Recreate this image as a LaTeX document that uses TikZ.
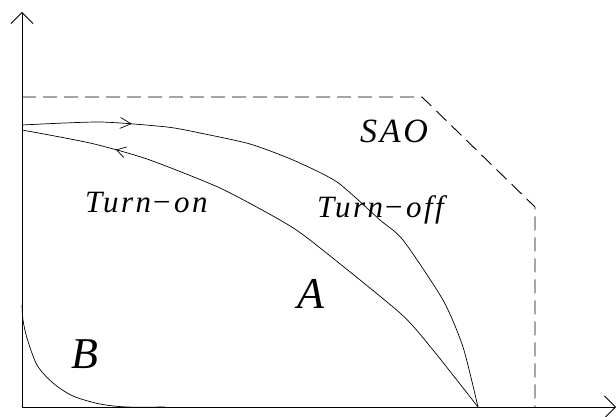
\documentclass[tikz,border=0pt]{standalone}
\usepackage{fontspec}
\setmainfont{Liberation Serif}
\newfontfamily\widefont{Liberation Serif}[LetterSpace=8]
\usetikzlibrary{arrows.meta,decorations.markings}
\tikzset{
  axis/.style={draw=black,line width=0.9pt,
               -{Straight Barb[length=11pt,width=22pt,line width=0.8pt]}},
  bound/.style={draw=black,line width=0.9pt,dash pattern=on 14pt off 7pt},
  curve/.style={draw=black,line width=0.7pt},
  flowfwd/.style={postaction={decorate},decoration={markings,
      mark=at position #1 with {\arrow{Straight Barb[length=11pt,width=11pt,line width=0.7pt]}}}},
  flowback/.style={postaction={decorate},decoration={markings,
      mark=at position #1 with {\arrowreversed{Straight Barb[length=9pt,width=11pt,line width=0.7pt]}}}},
  lbl/.style={inner sep=0pt,anchor=base west,font=\widefont\fontsize{31}{32}\selectfont\itshape},
  saolbl/.style={lbl,font=\widefont\fontsize{34}{36}\selectfont\itshape},
  big/.style={inner sep=0pt,anchor=base west,font=\fontsize{44}{46}\selectfont\itshape},
}
\begin{document}
\begin{tikzpicture}[x=1pt,y=-1pt]
\useasboundingbox (0,0) rectangle (616,417);
  \coordinate (o) at (22,407);
  \coordinate (ytop) at (22,12);
  \coordinate (xend) at (616,407);
  % axes
  \draw[axis] (o) -- (ytop);
  \draw[axis] (o) -- (xend);
  % safe operating area
  \coordinate (s1) at (22,97);
  \coordinate (s2) at (422,97);
  \coordinate (s3) at (535,207);
  \coordinate (s4) at (535,407);
  \draw[bound] (s1) -- (s2) -- (s3) -- (s4);
  % switching trajectories
  \draw[curve,flowfwd=110pt] plot[smooth,tension=0.4] coordinates
    {(22,125) (100,122) (167,127) (200,133) (250,144) (293,160) (337,182)
     (380,220) (403,240) (443,300) (463,347) (478,407)};
  \draw[curve,flowback=96pt] plot[smooth,tension=0.4] coordinates
    {(22,130) (90,143) (147,159) (220,188) (280,220) (310,240) (400,313)
     (433,350) (478,407)};
  \draw[curve] plot[smooth,tension=0.5] coordinates
    {(22,305) (23,320) (27,338) (37,365) (53,383) (73,396) (100,404)
     (127,407) (165,407)};
  % labels
  \node[saolbl] (sao) at (360,143) {SAO};
  \node[lbl] (on) at (85,212) {Turn\kern0pt−\kern2pt on};
  \node[lbl] (off) at (317,217) {Turn\kern0pt−\kern2pt off};
  \node[big] (a) at (297,308) {A};
  \node[big] (b) at (71,368) {B};
\end{tikzpicture}
\end{document}
